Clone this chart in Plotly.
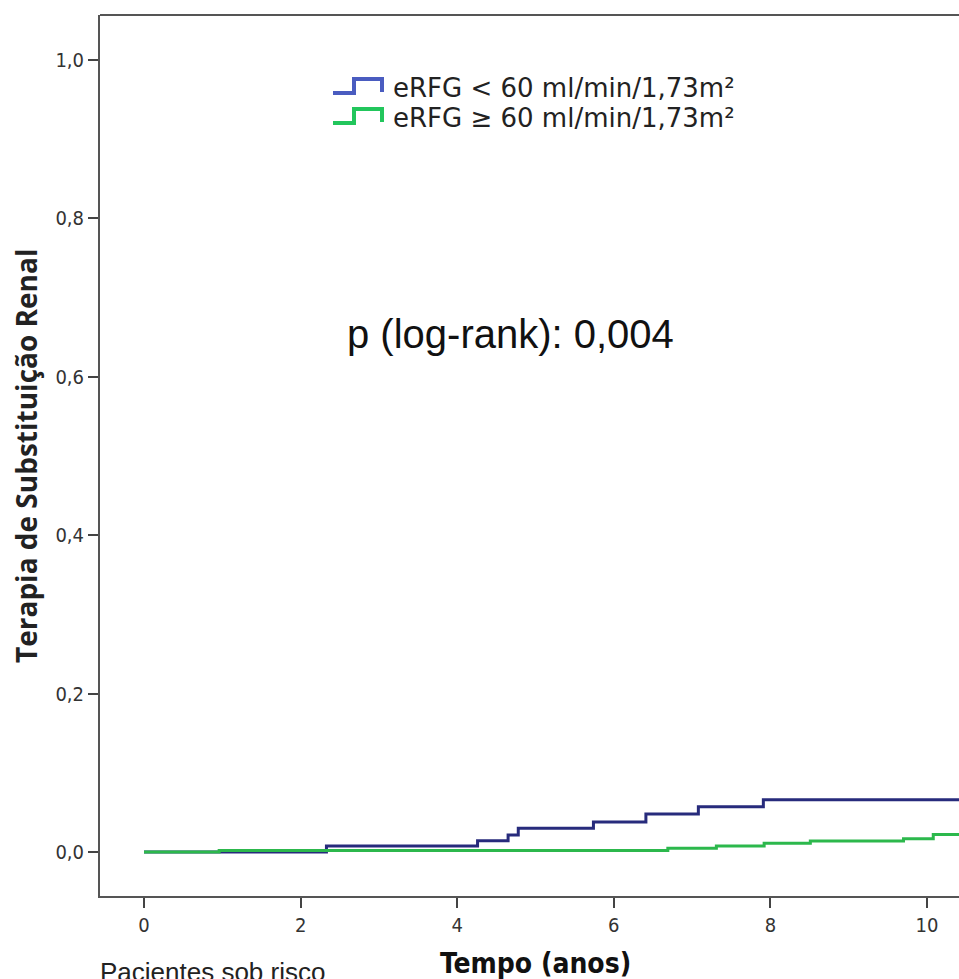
import plotly.graph_objects as go

# ---- data ----
blue_label = "eRFG < 60 ml/min/1,73m²"
green_label = "eRFG ≥ 60 ml/min/1,73m²"

blue_time = [0, 2.33, 4.26, 4.65, 4.78, 5.74, 6.41, 7.08, 7.91, 10.45]
blue_cum = [0, 0.0076, 0.0143, 0.0215, 0.030, 0.038, 0.048, 0.057, 0.066, 0.066]

green_time = [0, 0.96, 6.69, 7.31, 7.92, 8.51, 9.70, 10.08, 10.45]
green_cum = [0, 0.002, 0.0047, 0.0076, 0.011, 0.0139, 0.0166, 0.0221, 0.0221]

x_ticks = [0, 2, 4, 6, 8, 10]
x_ticklabels = ["0", "2", "4", "6", "8", "10"]
y_ticks = [0.0, 0.2, 0.4, 0.6, 0.8, 1.0]
y_ticklabels = ["0,0", "0,2", "0,4", "0,6", "0,8", "1,0"]

p_text = "p (log-rank): 0,004"
x_title = "Tempo (anos)"
y_title = "Terapia de Substituição Renal"
risk_title = "Pacientes sob risco"

# ---- layout geometry (pixels) ----
W, H = 959, 979
L, T, R, B = 100, 15, 0, 83
PW, PH = W - L - R, H - T - B


def px(xp):
    return (xp - L) / PW


def py(yp):
    return (H - B - yp) / PH


BLUE_LINE = "#272b7c"
GREEN_LINE = "#2cb84c"
BLUE_ICON = "#4a5cc0"
GREEN_ICON = "#22c65c"
TICK_FONT = "Liberation Sans Narrow, DejaVu Sans Condensed, Arial Narrow, sans-serif"

fig = go.Figure()
fig.add_trace(go.Scatter(x=blue_time, y=blue_cum, mode="lines", line_shape="hv",
                         line=dict(color=BLUE_LINE, width=3), name=blue_label,
                         showlegend=False))
fig.add_trace(go.Scatter(x=green_time, y=green_cum, mode="lines", line_shape="hv",
                         line=dict(color=GREEN_LINE, width=3), name=green_label,
                         showlegend=False))

shapes = []
# custom step-shaped legend icons
for (y_low, y_high, y_end, col) in [(93, 79, 92, BLUE_ICON), (123, 109, 122, GREEN_ICON)]:
    path = (f"M {px(333)},{py(y_low)} L {px(354)},{py(y_low)} L {px(354)},{py(y_high)} "
            f"L {px(382)},{py(y_high)} L {px(382)},{py(y_end)}")
    shapes.append(dict(type="path", xref="paper", yref="paper", path=path,
                       line=dict(color=col, width=4)))
# top border of frame
shapes.append(dict(type="line", xref="paper", yref="paper", x0=0, x1=1.0, y0=1, y1=1,
                   line=dict(color="#555555", width=2)))

annotations = [
    dict(text=blue_label, x=px(391), y=py(88), xref="paper", yref="paper",
         xanchor="left", yanchor="middle", showarrow=False,
         font=dict(family="DejaVu Sans", size=26, color="#222222")),
    dict(text=green_label, x=px(391), y=py(118), xref="paper", yref="paper",
         xanchor="left", yanchor="middle", showarrow=False,
         font=dict(family="DejaVu Sans", size=26, color="#222222")),
    dict(text=p_text, x=px(345), y=py(334), xref="paper", yref="paper",
         xanchor="left", yanchor="middle", showarrow=False,
         font=dict(family="Liberation Sans, Arial, sans-serif", size=40, color="#111111")),
    dict(text="<b>" + y_title + "</b>", x=px(26), y=py(456), xref="paper", yref="paper",
         xanchor="center", yanchor="middle", textangle=-90, showarrow=False,
         font=dict(family="Open Sans, sans-serif", size=28, color="#222222")),
    dict(text="<b>" + x_title + "</b>", x=px(535), y=py(963), xref="paper", yref="paper",
         xanchor="center", yanchor="middle", showarrow=False,
         font=dict(family=TICK_FONT, size=28, color="#111111")),
    dict(text=risk_title, x=px(98), y=py(972), xref="paper", yref="paper",
         xanchor="left", yanchor="middle", showarrow=False,
         font=dict(family="Liberation Sans, Arial, sans-serif", size=26, color="#222222")),
]

fig.update_layout(
    width=W, height=H,
    margin=dict(l=L, r=R, t=T, b=B, pad=0),
    paper_bgcolor="white", plot_bgcolor="white",
    shapes=shapes, annotations=annotations,
    showlegend=False,
)
fig.update_xaxes(
    range=[-(144 - L) / 78.3, (W - 144) / 78.3],
    tickvals=x_ticks, ticktext=x_ticklabels,
    ticks="outside", ticklen=10, tickwidth=2, tickcolor="#444444",
    showline=True, linecolor="#555555", linewidth=2,
    showgrid=False, zeroline=False,
    tickfont=dict(family=TICK_FONT, size=20, color="#333333"),
)
fig.update_yaxes(
    range=[-(896 - 852) / 792, (852 - 15) / 792],
    tickvals=y_ticks, ticktext=y_ticklabels,
    ticks="outside", ticklen=10, tickwidth=2, tickcolor="#444444",
    showline=True, linecolor="#555555", linewidth=2,
    showgrid=False, zeroline=False,
    tickfont=dict(family=TICK_FONT, size=20, color="#333333"),
)

fig.write_html("out.html")
